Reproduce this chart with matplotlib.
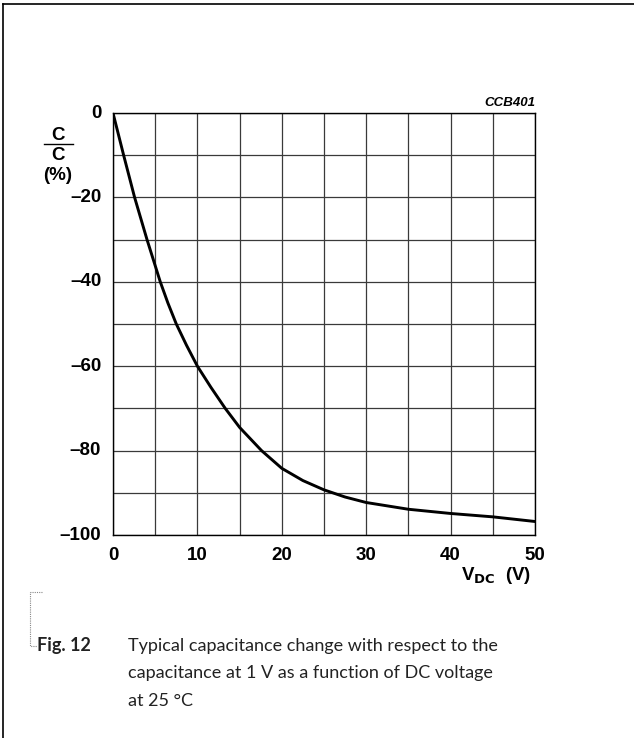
import matplotlib
matplotlib.use("Agg")
import matplotlib.pyplot as plt
from matplotlib.lines import Line2D

# values
vdc = [0, 1.26, 2.56, 4.03, 5.6, 6.5, 7.5, 8.7, 10, 11.6, 13.3, 15, 17.6, 20,
       22.5, 25, 27.5, 30, 35, 40, 45, 50]
dc_pct = [0, -10, -20, -30, -40, -45, -50, -55, -60, -65, -70, -74.5, -80,
          -84.2, -87.1, -89.3, -91, -92.3, -93.9, -94.9, -95.7, -96.8]
xticks = [0, 10, 20, 30, 40, 50]
yticks = [0, -20, -40, -60, -80, -100]

W, H = 634, 738
fig = plt.figure(figsize=(W / 100, H / 100), dpi=100)

def fx(px):
    return px / W

def fy(py):
    return 1 - py / H

ax = fig.add_axes([fx(113), fy(535), fx(422), 422 / H])
ax.plot(vdc, dc_pct, color="black", lw=2.1, solid_capstyle="round",
        solid_joinstyle="round", zorder=3)
ax.set_xlim(0, 50)
ax.set_ylim(-100, 0)
ax.set_xticks(range(0, 51, 5))
ax.set_yticks(range(-100, 1, 10))
ax.grid(True, color="#3a3a3a", lw=0.9)
ax.tick_params(length=0, labelleft=False, labelbottom=False)
for s in ax.spines.values():
    s.set_linewidth(1.0)

bold = dict(family="Liberation Sans", weight="bold", fontsize=13.5)
for v in yticks:
    ax.text(-1.4, v, "\u2013" + str(-v) if v else "0", ha="right", va="center",
            clip_on=False, **bold)
for v in xticks:
    ax.text(v, -104.8, str(v), ha="center", va="center", clip_on=False, **bold)

# y label: C over C (%)
fig.text(fx(58), fy(135), "C", ha="center", va="center", **bold)
fig.add_artist(Line2D([fx(44), fx(73)], [fy(144), fy(144)], color="black",
                      lw=1.0, transform=fig.transFigure))
fig.text(fx(58), fy(155), "C", ha="center", va="center", **bold)
fig.text(fx(58), fy(175), "(%)", ha="center", va="center", **bold)

fig.text(fx(531), fy(575), r"V$_{\mathbf{DC}}$  (V)", ha="right", va="center",
         **bold)
fig.text(fx(535), fy(103), "CCB401", ha="right", va="center",
         family="Liberation Sans", weight="bold", style="italic", fontsize=9.5)

# frame lines (top and left)
fig.add_artist(Line2D([fx(3), fx(634)], [fy(4), fy(4)], color="black", lw=1.2,
                      transform=fig.transFigure))
fig.add_artist(Line2D([fx(3), fx(3)], [fy(4), fy(738)], color="black", lw=1.2,
                      transform=fig.transFigure))

# dotted bracket to caption
fig.add_artist(Line2D([fx(42), fx(30), fx(30), fx(37)],
                      [fy(592), fy(592), fy(646), fy(646)], color="#888888",
                      lw=0.8, ls=(0, (1, 1)), transform=fig.transFigure))

cap = dict(family="Lato", fontsize=13, color="#222222", va="center")
fig.text(fx(37), fy(646), "Fig. 12", weight="bold", **cap)
fig.text(fx(128), fy(646), "Typical capacitance change with respect to the",
         **cap)
fig.text(fx(128), fy(673), "capacitance at 1 V as a function of DC voltage",
         **cap)
fig.text(fx(128), fy(701), "at 25 \u00b0C", **cap)

fig.savefig("out.png", dpi=100)
